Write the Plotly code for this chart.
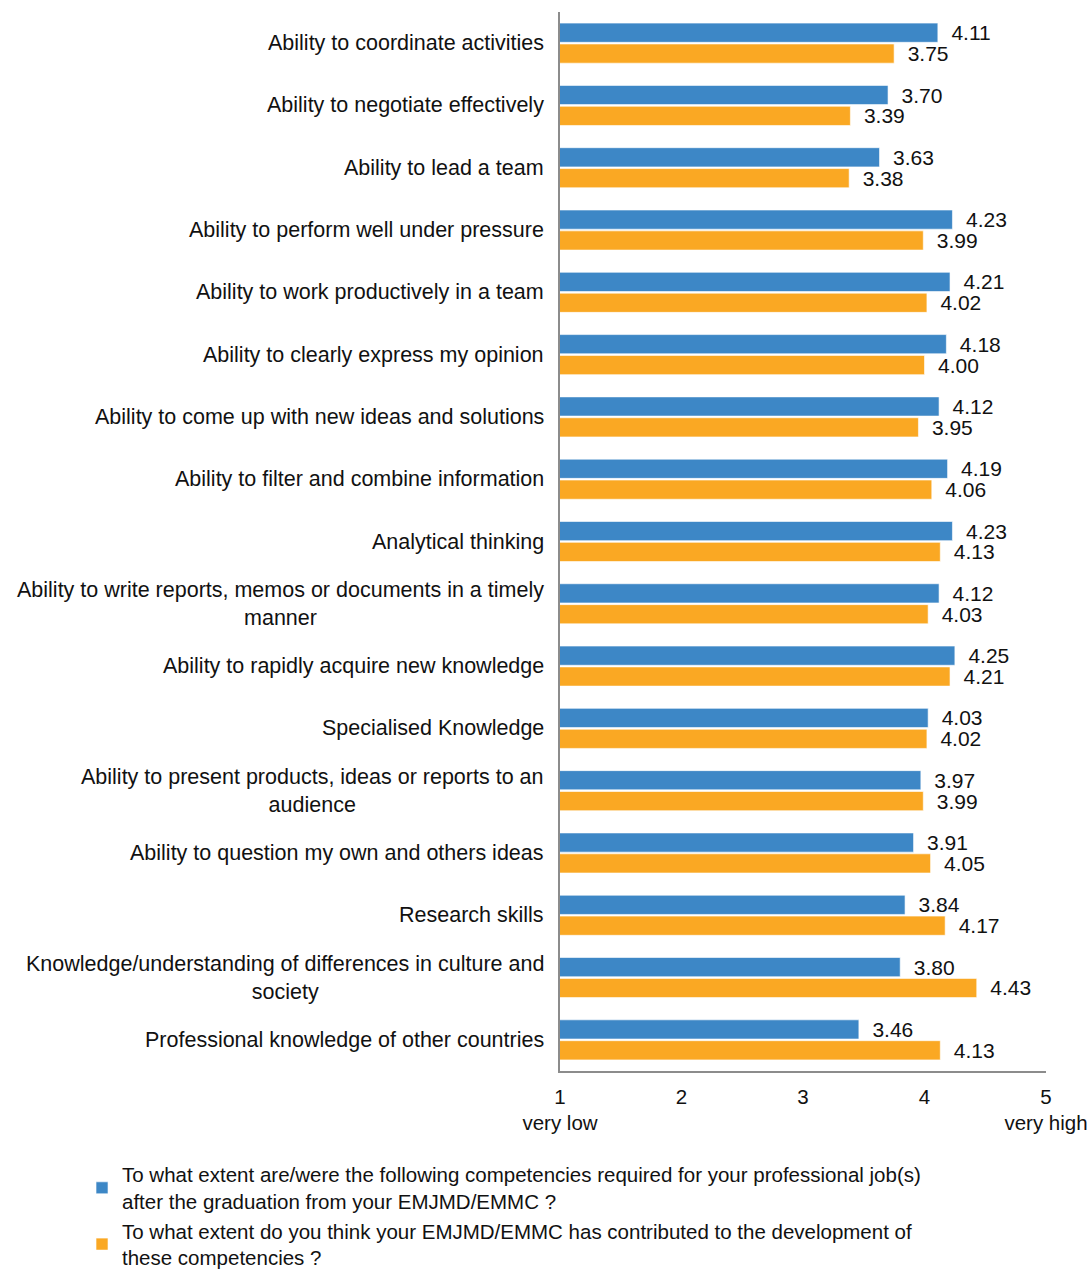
import plotly.graph_objects as go

categories = [
    "Ability to coordinate activities",
    "Ability to negotiate effectively",
    "Ability to lead a team",
    "Ability to perform well under pressure",
    "Ability to work productively in a team",
    "Ability to clearly express my opinion",
    "Ability to come up with new ideas and solutions",
    "Ability to filter and combine information",
    "Analytical thinking",
    "Ability to write reports, memos or documents in a timely<br>manner",
    "Ability to rapidly acquire new knowledge",
    "Specialised Knowledge",
    "Ability to present products, ideas or reports to an<br>audience",
    "Ability to question my own and others ideas",
    "Research skills",
    "Knowledge/understanding of differences in culture and<br>society",
    "Professional knowledge of other countries",
]

required = [4.11, 3.70, 3.63, 4.23, 4.21, 4.18, 4.12, 4.19, 4.23, 4.12,
            4.25, 4.03, 3.97, 3.91, 3.84, 3.80, 3.46]
contributed = [3.75, 3.39, 3.38, 3.99, 4.02, 4.00, 3.95, 4.06, 4.13, 4.03,
               4.21, 4.02, 3.99, 4.05, 4.17, 4.43, 4.13]

series_names = [
    "To what extent are/were the following competencies required for your professional job(s)<br>after the graduation from your EMJMD/EMMC ?",
    "To what extent do you think your EMJMD/EMMC has contributed to the development of<br>these competencies ?",
]

tick_values = [1, 2, 3, 4, 5]
tick_labels = ["1<br>very low", "2", "3", "4", "5<br>very high"]

BLUE = "#3d87c6"
ORANGE = "#faa823"
FONT = "Liberation Sans, Arial, sans-serif"
TEXT = "#111111"

fig = go.Figure()
for vals, name, color in [(required, series_names[0], BLUE),
                          (contributed, series_names[1], ORANGE)]:
    fig.add_trace(go.Bar(
        y=categories,
        x=vals,
        name=name,
        orientation="h",
        marker=dict(color=color, line=dict(color="rgba(255,255,255,0.6)", width=1)),
        texttemplate="\u2002%{x:.2f}",
        textposition="outside",
        constraintext="none",
        cliponaxis=False,
        textfont=dict(size=21, color=TEXT, family=FONT),
    ))

# category labels, centred line by line and right-aligned against the axis
for cat in categories:
    fig.add_annotation(
        x=0, xref="paper", y=cat, yref="y",
        text=cat, showarrow=False,
        xanchor="right", xshift=-14, align="center",
        font=dict(size=21.5, color=TEXT, family=FONT),
    )

fig.update_layout(
    width=1090,
    height=1271,
    margin=dict(l=560, r=44, t=12, b=200, autoexpand=False),
    plot_bgcolor="white",
    paper_bgcolor="white",
    barmode="group",
    bargap=0.33,
    bargroupgap=0.08,
    font=dict(family=FONT, size=21, color=TEXT),
    showlegend=True,
    legend=dict(
        x=-0.9835, xanchor="left",
        y=-0.079, yanchor="top",
        font=dict(size=20.5, color=TEXT, family=FONT),
        tracegroupgap=12,
        bgcolor="rgba(0,0,0,0)",
    ),
)

fig.update_xaxes(
    range=[1, 5],
    tickvals=tick_values,
    ticktext=tick_labels,
    automargin=False,
    showgrid=False,
    zeroline=False,
    showline=True,
    linecolor="#8c8c8c",
    linewidth=2,
    ticks="",
    ticklabelstandoff=6,
    tickfont=dict(size=20.5, color=TEXT, family=FONT),
)
fig.update_yaxes(
    autorange="reversed",
    automargin=False,
    showticklabels=False,
    showgrid=False,
    zeroline=False,
    showline=True,
    linecolor="#8c8c8c",
    linewidth=2,
    ticks="",
)

fig.write_html("out.html")
